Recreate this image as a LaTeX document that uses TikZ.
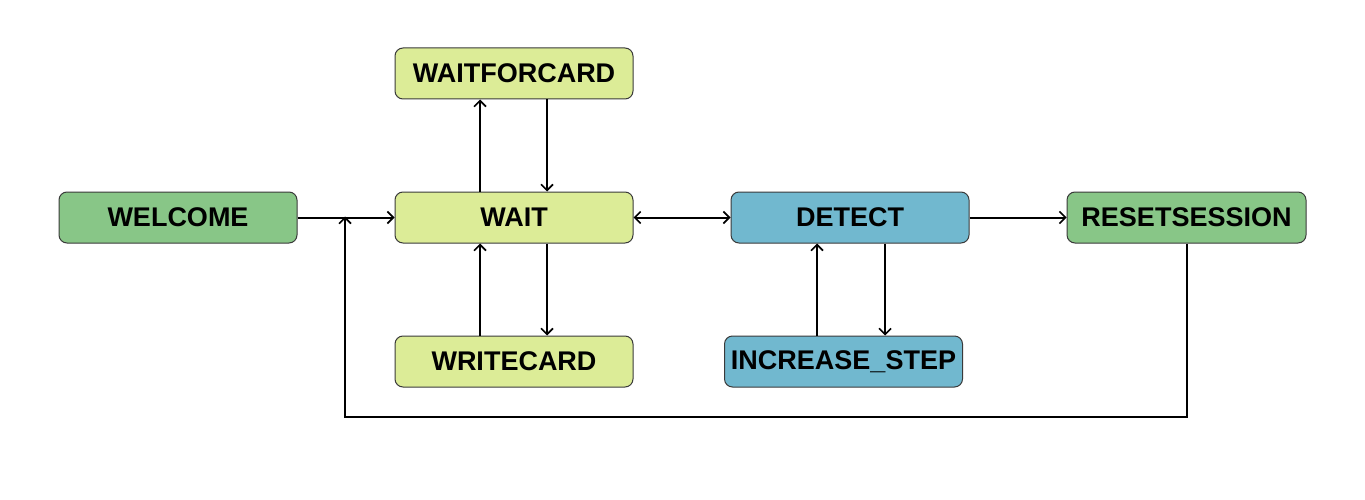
\documentclass[tikz,border=0pt]{standalone}
\usepackage{fontspec}
\setmainfont{Liberation Sans}
\usetikzlibrary{arrows.meta}
\definecolor{cgreen}{HTML}{88C687}
\definecolor{clight}{HTML}{DCEC97}
\definecolor{cblue}{HTML}{71B8CF}
\definecolor{cborder}{HTML}{3A3A3A}
\begin{document}
\begin{tikzpicture}[x=1pt,y=-1pt,
  box/.style={draw=cborder,line width=1pt,rounded corners=8pt,minimum width=238pt,minimum height=51pt,inner sep=0pt,font=\fontsize{27}{30}\selectfont\bfseries},
  conn/.style={line width=2pt,-{Straight Barb[length=6pt,width=12pt,line width=1.6pt]}},
  both/.style={line width=2pt,{Straight Barb[length=6pt,width=12pt,line width=1.6pt]}-{Straight Barb[length=6pt,width=12pt,line width=1.6pt]}},
  plain/.style={line width=2pt}]
\useasboundingbox (0,0) rectangle (1365,500);
\node[box,fill=cgreen] (welcome) at (178,217.5) {WELCOME};
\node[box,fill=clight] (wait) at (514,217.5) {WAIT};
\node[box,fill=clight] (wfc) at (514,73.5) {WAITFORCARD};
\node[box,fill=clight] (write) at (514,361.5) {WRITECARD};
\node[box,fill=cblue] (detect) at (850,217.5) {DETECT};
\node[box,fill=cblue] (inc) at (843.5,361.5) {INCREASE\_STEP};
\node[box,fill=cgreen,minimum width=239pt] (reset) at (1186.5,217.5) {RESETSESSION};
\coordinate (join) at (345,217.5);
\draw[conn] (welcome.east) -- (wait.west);
\draw[conn] (wait.north -| 480,0) -- (wfc.south -| 480,0);
\draw[conn] (wfc.south -| 547,0) -- (wait.north -| 547,0);
\draw[conn] (write.north -| 480,0) -- (wait.south -| 480,0);
\draw[conn] (wait.south -| 547,0) -- (write.north -| 547,0);
\draw[both] (wait.east) -- (detect.west);
\draw[conn] (inc.north -| 817,0) -- (detect.south -| 817,0);
\draw[conn] (detect.south -| 885,0) -- (inc.north -| 885,0);
\draw[conn] (detect.east) -- (reset.west);
\draw[conn] (reset.south -| 1187,0) |- (345,417) -- ([yshift=1pt]join);
\end{tikzpicture}
\end{document}
